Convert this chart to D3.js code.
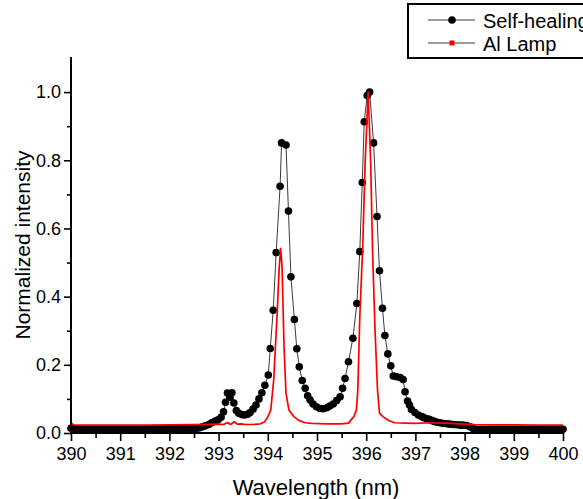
<!DOCTYPE html>
<html>
<head>
<meta charset="utf-8">
<script src="https://cdn.jsdelivr.net/npm/d3@7"></script>
<style>
  html, body { margin: 0; padding: 0; background: #fff; overflow: hidden; }
  svg { display: block; font-family: "Liberation Sans", Arial, sans-serif; }
</style>
</head>
<body>
<svg id="chart" width="583" height="499"></svg>
<script>
// Self-healing emission spectrum (black markers)
const selfHealingWavelength = [
  390.00, 390.07, 390.13, 390.20, 390.26, 390.33, 390.39, 390.46, 390.52, 390.59,
  390.65, 390.72, 390.78, 390.85, 390.91, 390.98, 391.04, 391.11, 391.17, 391.24,
  391.30, 391.37, 391.43, 391.50, 391.56, 391.63, 391.69, 391.76, 391.82, 391.89,
  391.95, 392.02, 392.08, 392.15, 392.21, 392.28, 392.34, 392.41, 392.47, 392.54,
  392.60, 392.67, 392.73, 392.80, 392.86, 392.93, 392.99, 393.05, 393.10, 393.14,
  393.18, 393.23, 393.27, 393.31, 393.36, 393.41, 393.47, 393.53, 393.59, 393.64,
  393.70, 393.76, 393.82, 393.88, 393.94, 394.01, 394.05, 394.11, 394.17, 394.25,
  394.28, 394.37, 394.42, 394.47, 394.54, 394.59, 394.64, 394.70, 394.76, 394.81,
  394.86, 394.92, 394.99, 395.06, 395.13, 395.20, 395.26, 395.33, 395.40, 395.47,
  395.52, 395.57, 395.64, 395.73, 395.81, 395.87, 395.92, 395.96, 396.02, 396.07,
  396.15, 396.22, 396.27, 396.33, 396.38, 396.44, 396.50, 396.55, 396.62, 396.69,
  396.75, 396.79, 396.84, 396.88, 396.92, 396.99, 397.06, 397.13, 397.17, 397.23,
  397.28, 397.33, 397.38, 397.43, 397.50, 397.57, 397.64, 397.70, 397.77, 397.84,
  397.91, 397.97, 398.04, 398.11, 398.17, 398.24, 398.30, 398.37, 398.43, 398.50,
  398.56, 398.63, 398.69, 398.76, 398.82, 398.89, 398.95, 399.02, 399.08, 399.15,
  399.21, 399.28, 399.34, 399.41, 399.47, 399.54, 399.60, 399.67, 399.73, 399.80,
  399.86, 399.93, 400.00
];
const selfHealingIntensity = [
  0.014, 0.013, 0.012, 0.012, 0.012, 0.012, 0.012, 0.012, 0.012, 0.012,
  0.012, 0.012, 0.012, 0.012, 0.012, 0.012, 0.012, 0.012, 0.012, 0.012,
  0.012, 0.012, 0.012, 0.012, 0.012, 0.012, 0.012, 0.012, 0.012, 0.012,
  0.012, 0.012, 0.012, 0.012, 0.012, 0.012, 0.012, 0.012, 0.012, 0.013,
  0.015, 0.018, 0.021, 0.025, 0.030, 0.035, 0.039, 0.046, 0.062, 0.090,
  0.117, 0.105, 0.118, 0.088, 0.066, 0.058, 0.054, 0.053, 0.055, 0.060,
  0.070, 0.082, 0.100, 0.118, 0.140, 0.170, 0.248, 0.360, 0.529, 0.724,
  0.851, 0.845, 0.651, 0.458, 0.333, 0.247, 0.194, 0.154, 0.131, 0.109,
  0.097, 0.085, 0.077, 0.072, 0.071, 0.074, 0.079, 0.085, 0.095, 0.106,
  0.131, 0.160, 0.209, 0.278, 0.380, 0.532, 0.735, 0.913, 0.990, 1.000,
  0.851, 0.635, 0.476, 0.366, 0.286, 0.232, 0.197, 0.167, 0.165, 0.163,
  0.157, 0.121, 0.094, 0.082, 0.069, 0.060, 0.053, 0.048, 0.045, 0.042,
  0.040, 0.037, 0.034, 0.032, 0.030, 0.028, 0.027, 0.026, 0.025, 0.024,
  0.023, 0.023, 0.022, 0.018, 0.013, 0.011, 0.011, 0.011, 0.011, 0.011,
  0.011, 0.011, 0.011, 0.011, 0.011, 0.011, 0.011, 0.011, 0.011, 0.011,
  0.011, 0.011, 0.011, 0.011, 0.011, 0.011, 0.011, 0.011, 0.011, 0.011,
  0.011, 0.011, 0.011
];

// Al lamp reference spectrum (red line)
const alLampWavelength = [
  390.00, 390.05, 390.15, 390.50, 391.00, 391.50, 392.00, 392.50, 393.00, 393.10,
  393.18, 393.24, 393.32, 393.38, 393.46, 393.55, 393.70, 393.85, 393.93, 393.99,
  394.06, 394.12, 394.19, 394.23, 394.26, 394.29, 394.33, 394.37, 394.43, 394.53,
  394.63, 394.76, 394.89, 395.20, 395.50, 395.64, 395.70, 395.75, 395.80, 395.83,
  395.87, 395.93, 395.98, 396.04, 396.09, 396.13, 396.18, 396.23, 396.27, 396.34,
  396.44, 396.57, 396.80, 397.00, 397.30, 397.60, 397.90, 398.20, 398.60, 399.00,
  399.50, 400.00
];
const alLampIntensity = [
  0.030, 0.024, 0.023, 0.023, 0.023, 0.023, 0.024, 0.025, 0.026, 0.025,
  0.031, 0.025, 0.033, 0.026, 0.027, 0.025, 0.025, 0.027, 0.032, 0.044,
  0.067, 0.155, 0.350, 0.480, 0.542, 0.488, 0.253, 0.116, 0.067, 0.048,
  0.037, 0.030, 0.028, 0.027, 0.027, 0.029, 0.040, 0.048, 0.067, 0.126,
  0.340, 0.550, 0.800, 1.000, 0.800, 0.530, 0.300, 0.126, 0.058, 0.048,
  0.038, 0.030, 0.029, 0.028, 0.030, 0.029, 0.027, 0.025, 0.024, 0.024,
  0.023, 0.023
];

const xTickValues = [390, 391, 392, 393, 394, 395, 396, 397, 398, 399, 400];
const yTickValues = [0.0, 0.2, 0.4, 0.6, 0.8, 1.0];
const yTickLabels = ["0.0", "0.2", "0.4", "0.6", "0.8", "1.0"];
const xMinorTicks = [390.5, 391.5, 392.5, 393.5, 394.5, 395.5, 396.5, 397.5, 398.5, 399.5];
const yMinorTicks = [0.1, 0.3, 0.5, 0.7, 0.9];
const seriesNames = ["Self-healing", "Al Lamp"];

const svg = d3.select("#chart");
const x = d3.scaleLinear().domain([390, 400]).range([71, 563]);
const y = d3.scaleLinear().domain([0, 1.1]).range([433, 58]);

const selfHealing = selfHealingWavelength.map((w, i) => ({ w, v: selfHealingIntensity[i] }));
const alLamp = alLampWavelength.map((w, i) => ({ w, v: alLampIntensity[i] }));

const line = d3.line().x(d => x(d.w)).y(d => y(d.v));

// connecting line of the self-healing series
svg.append("path")
  .datum(selfHealing)
  .attr("fill", "none")
  .attr("stroke", "#3a3a3a")
  .attr("stroke-width", 1)
  .attr("d", line);

// markers
svg.append("g")
  .selectAll("circle")
  .data(selfHealing)
  .join("circle")
  .attr("cx", d => x(d.w))
  .attr("cy", d => y(d.v))
  .attr("r", 3.8)
  .attr("fill", "#000");

// Al lamp line
svg.append("path")
  .datum(alLamp)
  .attr("fill", "none")
  .attr("stroke", "#ff0000")
  .attr("stroke-width", 1.7)
  .attr("stroke-linejoin", "round")
  .attr("d", line);

// axes
const xAxis = d3.axisBottom(x).tickValues(xTickValues).tickFormat(d3.format("d")).tickSize(8).tickPadding(6);
const xMinor = d3.axisBottom(x).tickValues(xMinorTicks).tickFormat("").tickSize(5);
const yAxis = d3.axisLeft(y).tickValues(yTickValues).tickFormat((d, i) => yTickLabels[i]).tickSize(7).tickPadding(3);
const yMinor = d3.axisLeft(y).tickValues(yMinorTicks).tickFormat("").tickSize(4);

function styleAxis(g) {
  g.select(".domain").remove();
  g.selectAll(".tick line").attr("stroke", "#000").attr("stroke-width", 1.6);
  g.selectAll(".tick text").attr("fill", "#000").attr("font-size", 18)
    .attr("font-family", "Liberation Sans, Arial, sans-serif");
}

svg.append("g").attr("transform", "translate(0,433)").call(xMinor).call(styleAxis);
svg.append("g").attr("transform", "translate(0,433)").call(xAxis).call(styleAxis);
svg.append("g").attr("transform", "translate(71,0)").call(yMinor).call(styleAxis);
svg.append("g").attr("transform", "translate(71,0)").call(yAxis).call(styleAxis);

// axis lines
svg.append("line").attr("x1", 71).attr("x2", 71).attr("y1", y(1.1) - 1).attr("y2", 434)
  .attr("stroke", "#000").attr("stroke-width", 2);
svg.append("line").attr("x1", 70).attr("x2", 564).attr("y1", 433).attr("y2", 433)
  .attr("stroke", "#000").attr("stroke-width", 2);

// axis titles
svg.append("text")
  .attr("x", 316).attr("y", 495)
  .attr("text-anchor", "middle")
  .attr("font-size", 22)
  .attr("fill", "#000")
  .text("Wavelength (nm)");

svg.append("text")
  .attr("transform", "translate(30,245) rotate(-90)")
  .attr("text-anchor", "middle")
  .attr("font-size", 21)
  .attr("fill", "#000")
  .text("Normalized intensity");

// legend
const legend = svg.append("g");
legend.append("rect")
  .attr("x", 408).attr("y", 4).attr("width", 240).attr("height", 54)
  .attr("fill", "#fff").attr("stroke", "#000").attr("stroke-width", 2);

legend.append("line").attr("x1", 428).attr("x2", 475).attr("y1", 20).attr("y2", 20)
  .attr("stroke", "#3a3a3a").attr("stroke-width", 1);
legend.append("circle").attr("cx", 452).attr("cy", 20).attr("r", 3.8).attr("fill", "#000");
legend.append("line").attr("x1", 428).attr("x2", 475).attr("y1", 43).attr("y2", 43)
  .attr("stroke", "#3a3a3a").attr("stroke-width", 1);
legend.append("rect").attr("x", 449.5).attr("y", 40.5).attr("width", 5).attr("height", 5).attr("fill", "#ff0000");

legend.selectAll("text.label")
  .data(seriesNames)
  .join("text")
  .attr("class", "label")
  .attr("x", 483)
  .attr("y", (d, i) => 28 + i * 23)
  .attr("font-size", 20)
  .attr("fill", "#000")
  .text(d => d);
</script>
</body>
</html>
